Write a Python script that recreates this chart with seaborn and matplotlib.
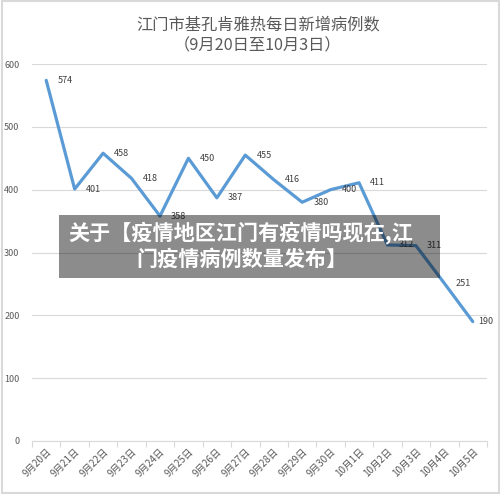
import matplotlib
matplotlib.use("Agg")
import matplotlib.pyplot as plt
import seaborn as sns
import pandas as pd
from matplotlib.patches import Rectangle

dates = ["9月20日", "9月21日", "9月22日", "9月23日", "9月24日", "9月25日", "9月26日", "9月27日",
         "9月28日", "9月29日", "9月30日", "10月1日", "10月2日", "10月3日", "10月4日", "10月5日"]
cases = [574, 401, 458, 418, 358, 450, 387, 455, 416, 380, 400, 411, 312, 311, 251, 190]
y_ticks = [0, 100, 200, 300, 400, 500, 600]
title_lines = ["江门市基孔肯雅热每日新增病例数", "（9月20日至10月3日）"]
banner_lines = ["关于【疫情地区江门有疫情吗现在,江", "门疫情病例数量发布】"]

sns.set_theme(style="white")
plt.rcParams['font.family'] = ['Noto Sans CJK SC', 'DejaVu Sans']

df = pd.DataFrame({"date": dates, "cases": cases, "idx": range(len(dates))})

fig = plt.figure(figsize=(5.0, 4.94), dpi=100)
ax = fig.add_axes([0.064, 0.1073, 0.91, 0.7631])

sns.lineplot(data=df, x="idx", y="cases", ax=ax, color="#5B9BD5", linewidth=2.3)

ax.set_xlim(-0.5, len(dates) - 0.5)
ax.set_ylim(0, 600)
ax.set_yticks(y_ticks)
ax.set_yticklabels([str(v) for v in y_ticks], fontsize=6.5, color="#595959")
ax.yaxis.grid(True, color="#D9D9D9", linewidth=0.8)
ax.tick_params(axis="y", length=0, pad=9)

ax.set_xticks(range(len(dates)))
ax.set_xticklabels(dates, rotation=45, ha="right", rotation_mode="anchor", fontsize=7, color="#595959")
ax.set_xticks([i + 0.5 for i in range(-1, len(dates))], minor=True)
ax.tick_params(axis="x", which="major", length=0, pad=4)
ax.tick_params(axis="x", which="minor", length=4, color="#D9D9D9", width=0.8, bottom=True)

for s in ["top", "right", "left"]:
    ax.spines[s].set_visible(False)
ax.spines["bottom"].set_color("#D9D9D9")
ax.spines["bottom"].set_linewidth(0.8)
ax.set_xlabel("")
ax.set_ylabel("")

last = len(cases) - 1
for i, v in enumerate(cases):
    dx = 4 if i == last else 8
    ax.annotate(str(v), (i, v), xytext=(dx, 0), textcoords="offset points",
                fontsize=6.5, color="#404040", va="center", ha="left", annotation_clip=False)

fig.text(0.516, 0.949, title_lines[0], ha="center", va="center", fontsize=11.7, color="#595959")
fig.text(0.516, 0.908, title_lines[1], ha="center", va="center", fontsize=11.7, color="#595959")

# border around image
fig.patches.append(Rectangle((0.003, 0.003), 0.994, 0.994, transform=fig.transFigure,
                             fill=False, edgecolor="#D9D9D9", linewidth=1.5))

# banner overlay
fig.patches.append(Rectangle((59 / 500, 1 - 278 / 494), (440 - 59) / 500, (278 - 215) / 494,
                             transform=fig.transFigure, facecolor="black", alpha=0.45,
                             edgecolor="none", zorder=10))
fig.text(68 / 500, 1 - 233 / 494, banner_lines[0], ha="left", va="center", fontsize=15.2,
         color="white", fontweight="bold", zorder=11)
fig.text(242 / 500, 1 - 259 / 494, banner_lines[1], ha="center", va="center", fontsize=15.2,
         color="white", fontweight="bold", zorder=11)

fig.savefig("out.png", dpi=100)
